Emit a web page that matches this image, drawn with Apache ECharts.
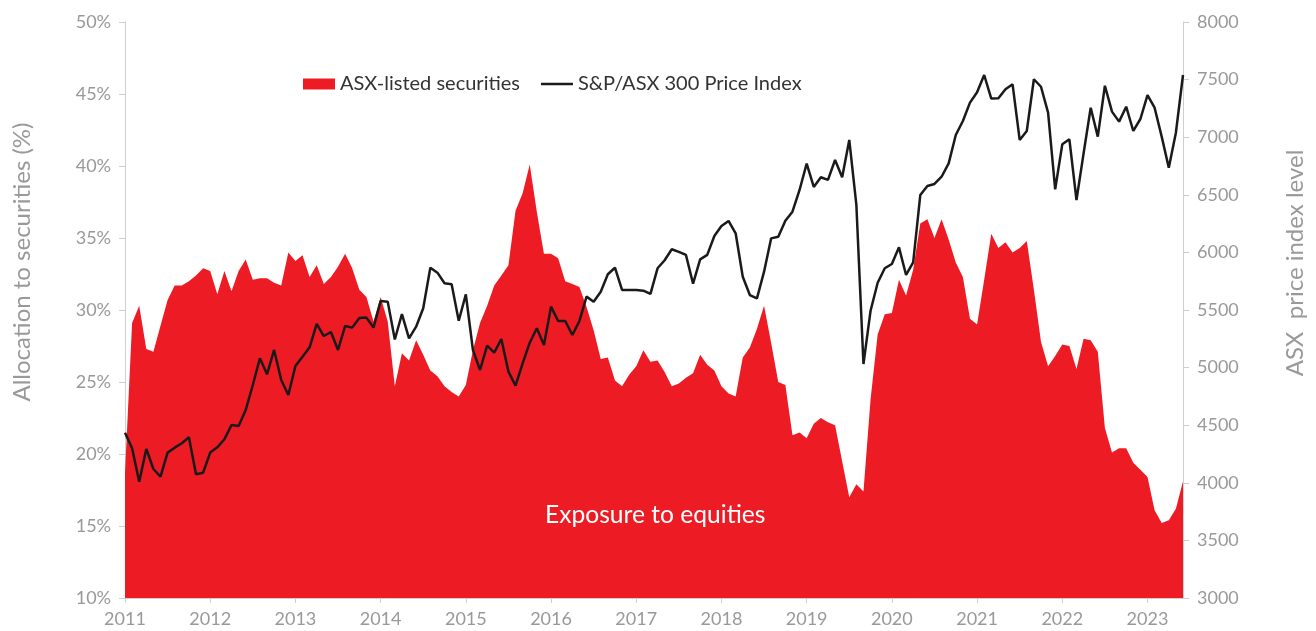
<!DOCTYPE html>
<html>
<head>
<meta charset="utf-8">
<script src="https://cdn.jsdelivr.net/npm/echarts@6/dist/echarts.min.js"></script>
<style>
html,body{margin:0;padding:0;background:#fff;}
#chart{width:1316px;height:631px;}
</style>
</head>
<body>
<div id="chart"></div>
<script>
// Monthly categories, Jan 2011 - Jun 2023
var months = [];
for (var y = 2011; y <= 2023; y++) {
  for (var m = 1; m <= 12; m++) {
    if (y === 2023 && m > 6) break;
    months.push(y + '-' + (m < 10 ? '0' + m : m));
  }
}

// Allocation to ASX-listed securities (%)
var asxListed = [
  18.7,29.1,30.3,27.3,27.1,28.9,30.7,31.7,31.7,32.0,32.4,32.9,
  32.7,31.1,32.7,31.3,32.7,33.5,32.1,32.2,32.2,31.9,31.7,34.0,
  33.4,33.8,32.3,33.1,31.8,32.3,33.0,33.9,32.9,31.4,30.9,29.2,
  30.9,29.2,24.7,27.0,26.5,27.9,26.9,25.8,25.4,24.7,24.3,24.0,
  24.8,27.2,29.1,30.3,31.7,32.4,33.1,36.9,38.1,40.1,36.8,33.9,
  33.9,33.6,32.0,31.8,31.6,30.2,28.6,26.6,26.7,25.1,24.7,25.5,
  26.1,27.2,26.4,26.5,25.7,24.7,24.9,25.3,25.6,26.9,26.2,25.8,
  24.7,24.2,24.0,26.7,27.4,28.7,30.3,27.7,25.0,24.8,21.3,21.5,
  21.1,22.1,22.5,22.2,22.0,19.5,17.0,17.9,17.4,23.8,28.3,29.7,
  29.8,32.1,31.0,32.8,36.0,36.3,35.0,36.3,34.9,33.3,32.3,29.4,
  29.0,32.1,35.3,34.3,34.7,34.0,34.3,34.8,31.4,27.8,26.1,26.8,
  27.6,27.5,25.9,28.0,27.9,27.1,21.8,20.1,20.4,20.4,19.4,18.9,
  18.4,16.1,15.2,15.4,16.2,18.1
];

// S&P/ASX 300 Price Index level
var asx300 = [
  4435,4300,4010,4294,4120,4053,4262,4305,4343,4395,4074,4088,
  4262,4308,4378,4502,4493,4632,4849,5081,4942,5153,4893,4762,
  5014,5095,5176,5379,5274,5309,5153,5361,5347,5431,5434,5347,
  5578,5572,5244,5465,5254,5355,5515,5867,5824,5732,5723,5407,
  5636,5153,4979,5190,5130,5248,4965,4843,5037,5216,5341,5196,
  5529,5405,5405,5283,5405,5616,5572,5659,5810,5867,5674,5674,
  5674,5668,5640,5862,5932,6027,6005,5978,5729,5940,5978,6142,
  6229,6273,6166,5789,5630,5601,5833,6122,6136,6275,6353,6542,
  6770,6568,6652,6629,6802,6652,6976,6412,5031,5494,5737,5862,
  5899,6044,5804,5914,6498,6576,6594,6657,6773,7019,7141,7300,
  7390,7540,7335,7338,7416,7459,6976,7054,7503,7438,7213,6548,
  6938,6982,6455,6860,7256,7005,7447,7222,7135,7265,7054,7158,
  7366,7256,7005,6735,7039,7540
];

var leftTicks = {min: 10, max: 50, interval: 5};
var rightTicks = {min: 3000, max: 8000, interval: 500};

var FONT = 'Lato';
var GREY = '#999999';
var AXIS = '#cfcfcf';

var chart = echarts.init(document.getElementById('chart'), null, {renderer: 'canvas'});
chart.setOption({
  animation: false,
  backgroundColor: '#ffffff',
  textStyle: {fontFamily: FONT},
  grid: {left: 125, right: 133, top: 22, bottom: 33, containLabel: false},
  legend: {
    left: 298, top: 69,
    itemWidth: 32, itemHeight: 11, itemGap: 21,
    textStyle: {fontFamily: FONT, fontSize: 20, color: '#333333'},
    data: [
      {name: 'ASX-listed securities', icon: 'rect'},
      {name: 'S&P/ASX 300 Price Index', icon: 'path://M0,0L32,0L32,2.5L0,2.5Z'}
    ]
  },
  xAxis: {
    type: 'category',
    data: months,
    boundaryGap: false,
    axisLine: {lineStyle: {color: AXIS, width: 1}},
    axisTick: {show: true, interval: 11, length: 5, lineStyle: {color: AXIS}},
    axisLabel: {
      interval: 11, margin: 12, color: GREY, fontSize: 18, fontFamily: FONT,
      formatter: function (v) { return v.slice(0, 4); }
    },
    splitLine: {show: false}
  },
  yAxis: [
    {
      type: 'value', position: 'left',
      min: leftTicks.min, max: leftTicks.max, interval: leftTicks.interval,
      axisLine: {show: true, lineStyle: {color: AXIS}},
      axisTick: {show: true, length: 6, lineStyle: {color: AXIS}},
      axisLabel: {color: GREY, fontSize: 18, fontFamily: FONT, margin: 14, formatter: '{value}%'},
      splitLine: {show: false}
    },
    {
      type: 'value', position: 'right',
      min: rightTicks.min, max: rightTicks.max, interval: rightTicks.interval,
      axisLine: {show: true, lineStyle: {color: AXIS}},
      axisTick: {show: true, length: 6, lineStyle: {color: AXIS}},
      axisLabel: {color: GREY, fontSize: 18, fontFamily: FONT, margin: 14,
        formatter: function (v) { return String(v); }},
      splitLine: {show: false}
    }
  ],
  series: [
    {
      name: 'ASX-listed securities',
      type: 'line',
      yAxisIndex: 0,
      data: asxListed,
      symbol: 'none',
      color: '#ED1C24',
      lineStyle: {width: 0, color: '#ED1C24'},
      areaStyle: {color: '#ED1C24', opacity: 1, origin: 'start'},
      z: 1
    },
    {
      name: 'S&P/ASX 300 Price Index',
      type: 'line',
      yAxisIndex: 1,
      data: asx300,
      symbol: 'none',
      color: '#1a1a1a',
      lineStyle: {width: 2.5, color: '#1a1a1a'},
      z: 3
    }
  ],
  graphic: [
    {
      type: 'text', left: 545, top: 503, z: 10,
      style: {text: 'Exposure to equities', fill: '#ffffff', font: '24.6px Lato'}
    },
    {
      type: 'text', x: 22, y: 262, rotation: Math.PI / 2, z: 10,
      style: {text: 'Allocation to securities (%)', fill: GREY, font: '24px Lato',
        textAlign: 'center', textVerticalAlign: 'middle'}
    },
    {
      type: 'text', x: 1295, y: 263, rotation: Math.PI / 2, z: 10,
      style: {text: 'ASX  price index level', fill: GREY, font: '24px Lato',
        textAlign: 'center', textVerticalAlign: 'middle'}
    }
  ]
});
</script>
</body>
</html>
